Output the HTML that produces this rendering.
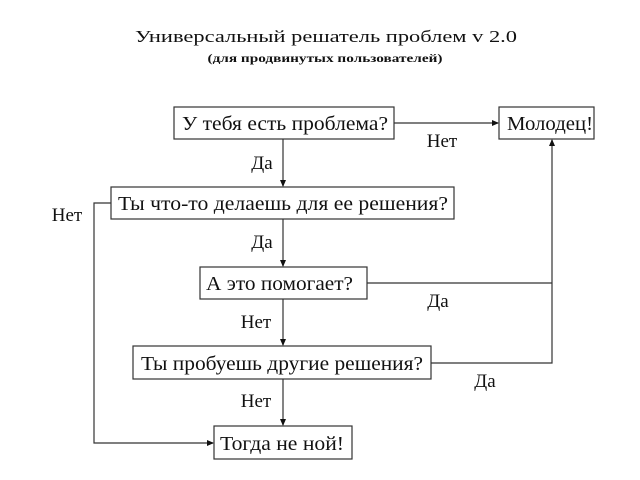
<!DOCTYPE html>
<html><head><meta charset="utf-8"><style>
html,body{margin:0;padding:0;background:#fff;}
svg{display:block}
text{font-family:"Liberation Serif","DejaVu Serif",serif;fill:#111;}
</style></head><body>
<svg width="640" height="480" viewBox="0 0 640 480" xmlns="http://www.w3.org/2000/svg">
<defs><marker id="a" markerWidth="7" markerHeight="6" refX="6" refY="3" orient="auto" markerUnits="userSpaceOnUse"><path d="M0,0 L7,3 L0,6 z" fill="#111"/></marker></defs>
<text x="326" y="42" font-size="17" text-anchor="middle" textLength="382" lengthAdjust="spacingAndGlyphs">Универсальный решатель проблем v 2.0</text>
<text x="325" y="62" font-size="11.5" font-weight="bold" text-anchor="middle" textLength="235" lengthAdjust="spacingAndGlyphs">(для продвинутых пользователей)</text>
<g fill="none" stroke="#333" stroke-width="1.2">
<rect x="174" y="107" width="220" height="32"/>
<rect x="499" y="107" width="95" height="32"/>
<rect x="111" y="187" width="343" height="32"/>
<rect x="200" y="267" width="167" height="32"/>
<rect x="133" y="346" width="298" height="33"/>
<rect x="214" y="426" width="138" height="33"/>
<line x1="394" y1="123" x2="498" y2="123" marker-end="url(#a)"/>
<line x1="283" y1="139" x2="283" y2="186" marker-end="url(#a)"/>
<line x1="283" y1="219" x2="283" y2="266" marker-end="url(#a)"/>
<line x1="283" y1="299" x2="283" y2="345" marker-end="url(#a)"/>
<line x1="283" y1="379" x2="283" y2="425" marker-end="url(#a)"/>
<polyline points="111,203 94,203 94,443 213,443" marker-end="url(#a)"/>
<polyline points="367,283 552,283"/>
<polyline points="431,363 552,363 552,140" marker-end="url(#a)"/>
</g>
<g font-size="20" lengthAdjust="spacingAndGlyphs">
<text x="182" y="130" textLength="206" lengthAdjust="spacingAndGlyphs">У тебя есть проблема?</text>
<text x="507" y="130" textLength="86" lengthAdjust="spacingAndGlyphs">Молодец!</text>
<text x="118" y="210" textLength="330" lengthAdjust="spacingAndGlyphs">Ты что-то делаешь для ее решения?</text>
<text x="206" y="290" textLength="147" lengthAdjust="spacingAndGlyphs">А это помогает?</text>
<text x="141" y="370" textLength="282" lengthAdjust="spacingAndGlyphs">Ты пробуешь другие решения?</text>
<text x="220" y="450" textLength="124" lengthAdjust="spacingAndGlyphs">Тогда не ной!</text>
</g>
<g font-size="19" text-anchor="middle">
<text x="442" y="147">Нет</text>
<text x="262" y="169">Да</text>
<text x="262" y="248">Да</text>
<text x="67" y="221">Нет</text>
<text x="438" y="307">Да</text>
<text x="256" y="328">Нет</text>
<text x="485" y="387">Да</text>
<text x="256" y="407">Нет</text>
</g>
</svg>
</body></html>
